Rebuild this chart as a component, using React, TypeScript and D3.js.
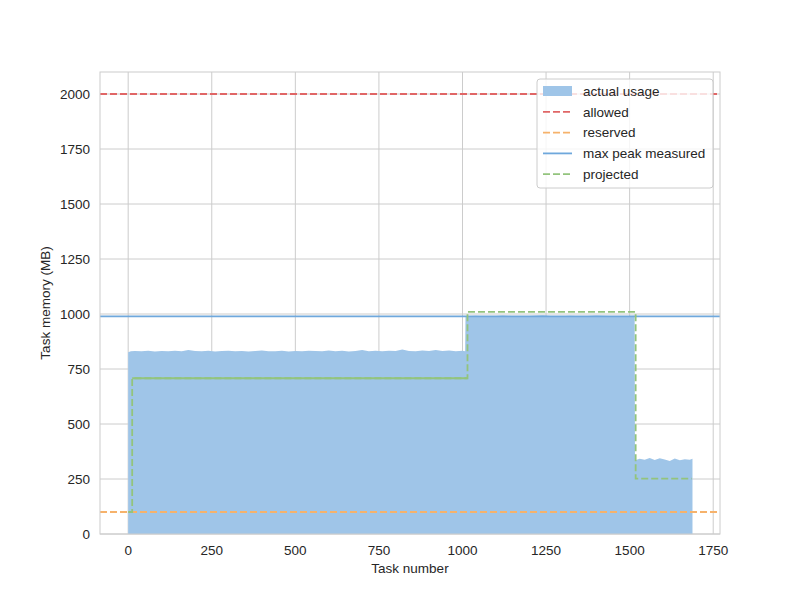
import React from "react";
import * as d3 from "d3";

// ---------- data ----------
const usageTasks = [
  0, 8, 20, 40, 60, 80, 100, 120, 140, 160, 180, 200, 220, 240, 260, 280, 300, 320, 340, 360, 380,
  400, 420, 440, 460, 480, 500, 520, 540, 560, 580, 600, 620, 640, 660, 680, 700, 720, 740, 760,
  780, 800, 820, 840, 860, 880, 900, 920, 940, 960, 980, 1000, 1008,
  1009, 1040, 1080, 1120, 1160, 1200, 1240, 1280, 1320, 1360, 1400, 1440, 1480, 1515,
  1516, 1530, 1545, 1560, 1575, 1590, 1605, 1620, 1635, 1650, 1665, 1680, 1688,
];
const usageValues = [
  826, 831, 832, 831, 833, 830, 832, 831, 833, 831, 836, 832, 831, 833, 830, 832, 833, 831, 832, 830, 832,
  834, 831, 831, 833, 830, 832, 831, 833, 832, 831, 834, 831, 833, 830, 832, 836, 831, 833, 831,
  833, 832, 839, 832, 831, 834, 832, 836, 832, 834, 831, 833, 831,
  990, 992, 989, 993, 990, 991, 994, 989, 992, 990, 993, 991, 990, 992,
  335, 342, 338, 345, 336, 344, 339, 332, 343, 335, 340, 338, 342,
];

const projectedTasks = [0, 12, 12, 1015, 1015, 1518, 1518, 1686];
const projectedValues = [100, 100, 708, 708, 1010, 1010, 252, 252];

const allowedMB = 2000;
const reservedMB = 100;
const maxPeakMB = 989;

const xTicks = [0, 250, 500, 750, 1000, 1250, 1500, 1750];
const yTicks = [0, 250, 500, 750, 1000, 1250, 1500, 1750, 2000];

const legendLabels = ["actual usage", "allowed", "reserved", "max peak measured", "projected"];

// ---------- style ----------
const C = {
  fill: "#9fc5e8",
  red: "#e06666",
  orange: "#f6b26b",
  blue: "#6fa8dc",
  green: "#93c47d",
  grid: "#cccccc",
  text: "#262626",
};
const FONT = "'Liberation Sans', Arial, sans-serif";

export default function App() {
  const W = 800, H = 600;
  const L = 100, R = 720, T = 72, B = 534;
  const xMin = 0, xMax = 1686;
  const span = xMax - xMin;
  const x = d3.scaleLinear().domain([xMin - 0.05 * span, xMax + 0.05 * span]).range([L, R]);
  const y = d3.scaleLinear().domain([0, 2100]).range([B, T]);

  const usagePts: [number, number][] = usageTasks.map((t, i) => [t, usageValues[i]]);
  const area = d3
    .area<[number, number]>()
    .x((d) => x(d[0]))
    .y0(y(0))
    .y1((d) => y(d[1]));

  const projPts: [number, number][] = projectedTasks.map((t, i) => [t, projectedValues[i]]);
  const line = d3
    .line<[number, number]>()
    .x((d) => x(d[0]))
    .y((d) => y(d[1]));

  const dash = "7,3";
  const lw = 1.8;
  const fs = 13.5;

  // legend
  const lgX = 537, lgY = 79, lgW = 176, lgH = 109;
  const rowY = (i: number) => lgY + 12 + i * 20.8;

  return (
    <svg width={W} height={H} style={{ position: "absolute", left: 0, top: 0 }} fontFamily={FONT}>
      <rect x={0} y={0} width={W} height={H} fill="#fff" />
      {/* grid */}
      {xTicks.map((t) => (
        <line key={"gx" + t} x1={x(t)} x2={x(t)} y1={T} y2={B} stroke={C.grid} strokeWidth={1} />
      ))}
      {yTicks.map((t) => (
        <line key={"gy" + t} x1={L} x2={R} y1={y(t)} y2={y(t)} stroke={C.grid} strokeWidth={1} />
      ))}

      {/* actual usage */}
      <path d={area(usagePts) || ""} fill={C.fill} />

      {/* reference lines */}
      <line x1={L} x2={R} y1={y(allowedMB)} y2={y(allowedMB)} stroke={C.red} strokeWidth={lw} strokeDasharray={dash} />
      <line x1={L} x2={R} y1={y(reservedMB)} y2={y(reservedMB)} stroke={C.orange} strokeWidth={lw} strokeDasharray={dash} />
      <line x1={L} x2={R} y1={y(maxPeakMB)} y2={y(maxPeakMB)} stroke={C.blue} strokeWidth={lw} />

      {/* projected */}
      <path d={line(projPts) || ""} fill="none" stroke={C.green} strokeWidth={lw} strokeDasharray={dash} />
      <path d={line(projPts.slice(2, 4)) || ""} fill="none" stroke={C.green} strokeWidth={2} />

      {/* spines */}
      <rect x={L} y={T} width={R - L} height={B - T} fill="none" stroke={C.grid} strokeWidth={1} />

      {/* tick labels */}
      {xTicks.map((t) => (
        <text key={"tx" + t} x={x(t)} y={555} textAnchor="middle" fontSize={fs} fill={C.text}>
          {t}
        </text>
      ))}
      {yTicks.map((t) => (
        <text key={"ty" + t} x={90} y={y(t)} dy="0.35em" textAnchor="end" fontSize={fs} fill={C.text}>
          {t}
        </text>
      ))}

      {/* axis labels */}
      <text x={(L + R) / 2} y={573} textAnchor="middle" fontSize={fs} fill={C.text}>
        Task number
      </text>
      <text
        transform={`translate(50,${(T + B) / 2}) rotate(-90)`}
        textAnchor="middle"
        fontSize={fs}
        fill={C.text}
      >
        Task memory (MB)
      </text>

      {/* legend */}
      <rect x={lgX} y={lgY} width={lgW} height={lgH} rx={3} fill="rgba(255,255,255,0.8)" stroke={C.grid} strokeWidth={1} />
      {legendLabels.map((lab, i) => {
        const ry = rowY(i);
        const hx1 = 543, hx2 = 572;
        let handle;
        if (i === 0) handle = <rect x={hx1} y={ry - 5} width={hx2 - hx1} height={10} fill={C.fill} />;
        else {
          const col = [C.red, C.red, C.orange, C.blue, C.green][i];
          handle = (
            <line x1={hx1} x2={hx2} y1={ry} y2={ry} stroke={col} strokeWidth={lw} strokeDasharray={i === 3 ? undefined : dash} />
          );
        }
        return (
          <g key={lab}>
            {handle}
            <text x={583} y={ry} dy="0.35em" fontSize={fs} fill={C.text}>
              {lab}
            </text>
          </g>
        );
      })}
    </svg>
  );
}
